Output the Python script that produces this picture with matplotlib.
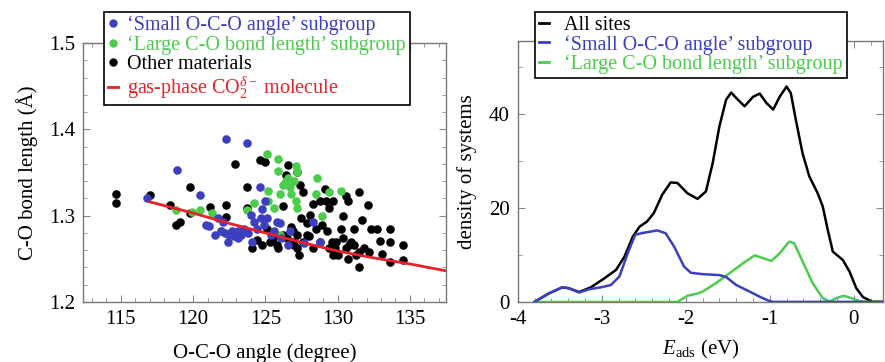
import matplotlib
matplotlib.use("Agg")
import matplotlib.pyplot as plt
from matplotlib.lines import Line2D
from matplotlib.ticker import MultipleLocator

plt.rcParams['font.family'] = ['Liberation Serif', 'DejaVu Serif']
plt.rcParams['mathtext.fontset'] = 'custom'
plt.rcParams['mathtext.rm'] = 'Liberation Serif'
plt.rcParams['mathtext.it'] = 'Liberation Serif:italic'

# ------------------------
# Data: scatter (left)
# ------------------------
other_angle = [114.7, 114.7, 117.0, 118.4, 118.8, 119.1, 119.8, 119.8, 121.2, 122.3,
               122.3, 122.9, 123.7, 123.7, 124.1, 124.4, 124.6, 125.0, 125.1, 125.3,
               125.8, 126.4, 126.2, 126.6, 127.2, 126.8, 126.9, 127.2, 127.4, 127.6,
               127.3, 127.5, 127.9, 127.9, 128.1, 128.3, 128.5, 128.9, 129.1, 128.8,
               129.2, 129.4, 129.3, 129.7, 129.6, 129.8, 130.2, 130.4, 130.4, 130.6,
               130.7, 131.1, 130.9, 130.6, 130.7, 131.5, 131.7, 131.5, 131.5, 132.1,
               132.3, 132.2, 132.7, 132.9, 133.1, 133.6, 133.6, 133.6, 134.5, 134.5,
               131.8, 131.1, 129.7, 128.8, 128.3, 127.2, 126.2, 125.9, 126.9, 127.6,
               129.4, 130.0, 131.3, 126.5, 127.0, 125.5, 124.8, 128.0, 129.9, 130.8]
other_length = [1.325, 1.315, 1.324, 1.312, 1.289, 1.293, 1.333, 1.303, 1.310, 1.312,
                1.298, 1.360, 1.333, 1.309, 1.262, 1.272, 1.365, 1.362, 1.285, 1.270,
                1.266, 1.347, 1.311, 1.359, 1.351, 1.287, 1.282, 1.278, 1.335, 1.327,
                1.254, 1.297, 1.291, 1.278, 1.301, 1.313, 1.285, 1.289, 1.331, 1.317,
                1.317, 1.309, 1.282, 1.317, 1.270, 1.262, 1.285, 1.299, 1.274, 1.323,
                1.317, 1.285, 1.270, 1.262, 1.250, 1.327, 1.295, 1.258, 1.240, 1.312,
                1.285, 1.258, 1.284, 1.271, 1.256, 1.284, 1.270, 1.246, 1.266, 1.248,
                1.262, 1.266, 1.254, 1.270, 1.262, 1.262, 1.278, 1.262, 1.270, 1.270,
                1.262, 1.254, 1.254, 1.274, 1.266, 1.274, 1.266, 1.276, 1.270, 1.266]

small_angle = [116.8, 118.9, 120.5, 122.3, 123.7, 124.6, 125.0, 124.8, 120.9, 121.1,
               121.5, 121.7, 121.9, 122.1, 122.2, 122.5, 122.7, 122.8, 123.1, 123.3,
               123.5, 123.8, 124.0, 124.1, 124.2, 124.4, 124.7, 124.9, 125.1, 125.4,
               125.6, 125.8, 126.0, 126.1, 126.6, 126.7, 127.7, 128.3, 128.8, 122.4,
               123.1]
small_length = [1.321, 1.353, 1.324, 1.389, 1.384, 1.333, 1.317, 1.308, 1.289, 1.288,
                1.278, 1.297, 1.282, 1.293, 1.280, 1.278, 1.282, 1.276, 1.274, 1.278,
                1.285, 1.280, 1.301, 1.270, 1.293, 1.285, 1.297, 1.289, 1.297, 1.278,
                1.282, 1.293, 1.291, 1.274, 1.266, 1.282, 1.268, 1.293, 1.270, 1.270,
                1.282]

large_angle = [118.8, 119.9, 120.5, 121.3, 121.9, 123.7, 124.2, 125.1, 125.2, 125.2,
               125.9, 125.9, 126.0, 126.2, 126.4, 126.6, 126.7, 127.0, 127.1, 127.2,
               127.1, 127.2, 126.8, 128.6, 128.5, 129.4, 128.9, 130.2, 126.0, 125.6]
large_length = [1.307, 1.304, 1.306, 1.303, 1.282, 1.307, 1.315, 1.371, 1.317, 1.329,
                1.366, 1.352, 1.325, 1.336, 1.340, 1.344, 1.333, 1.340, 1.358, 1.350,
                1.317, 1.309, 1.325, 1.344, 1.325, 1.327, 1.299, 1.329, 1.278, 1.309]

gas_angle = [117.0, 120.0, 122.5, 125.0, 127.5, 130.0, 132.5, 135.0, 137.5]
gas_length = [1.316, 1.303, 1.291, 1.280, 1.269, 1.259, 1.251, 1.244, 1.236]

# ------------------------
# Data: density of systems (right)
# ------------------------
all_e = [-3.80, -3.63, -3.47, -3.39, -3.27, -3.13, -2.97, -2.83, -2.73, -2.63,
         -2.55, -2.46, -2.38, -2.28, -2.18, -2.10, -1.98, -1.86, -1.76, -1.68,
         -1.60, -1.52, -1.46, -1.38, -1.30, -1.20, -1.12, -1.04, -0.96, -0.88,
         -0.80, -0.75, -0.69, -0.61, -0.53, -0.43, -0.37, -0.31, -0.25, -0.13,
         -0.05, 0.03, 0.11, 0.19, 0.22, 0.35]
all_d = [0.0, 1.8, 3.1, 2.9, 2.1, 3.1, 5.0, 6.8, 9.6, 13.9,
         16.0, 17.1, 18.9, 22.8, 25.4, 25.3, 23.1, 21.9, 23.5, 29.5,
         37.3, 43.0, 44.5, 43.0, 41.6, 43.6, 44.3, 42.3, 40.9, 43.7,
         45.8, 44.4, 38.7, 31.6, 26.7, 23.1, 20.3, 15.3, 10.7, 8.9,
         6.4, 2.9, 1.0, 0.3, 0.0, 0.0]

small_e = [-3.80, -3.63, -3.47, -3.39, -3.27, -3.15, -3.01, -2.89, -2.79, -2.69,
           -2.60, -2.50, -2.34, -2.24, -2.14, -2.02, -1.94, -1.80, -1.60, -1.52,
           -1.40, -1.24, -1.12, -1.02, -0.96, 0.35]
small_d = [0.0, 1.8, 3.1, 2.9, 2.0, 2.7, 3.1, 3.6, 5.4, 10.4,
           14.3, 14.7, 15.2, 14.6, 11.8, 7.5, 6.2, 5.9, 5.7, 5.3,
           3.6, 2.2, 1.1, 0.3, 0.0, 0.0]

large_e = [-3.80, -2.10, -1.98, -1.86, -1.80, -1.64, -1.48, -1.32, -1.18, -1.08,
           -0.98, -0.88, -0.77, -0.71, -0.61, -0.49, -0.37, -0.29, -0.21, -0.12,
           -0.03, 0.07, 0.15, 0.35]
large_d = [0.0, 0.0, 1.3, 1.8, 2.2, 4.0, 6.1, 8.2, 9.9, 9.3,
           8.7, 10.4, 12.8, 12.5, 8.6, 4.0, 0.8, 0.1, 0.8, 1.3,
           0.8, 0.2, 0.0, 0.0]

BLUE = '#3b3fc0'
GREEN = '#4ccc4c'
RED = '#e8202a'

fig = plt.figure(figsize=(8.85, 3.62), dpi=100)
ax1 = fig.add_axes([0.094, 0.166, 0.410, 0.715])
ax2 = fig.add_axes([0.585, 0.166, 0.413, 0.721])

# ------------------------
# Left panel
# ------------------------
ms = 38
ax1.scatter(other_angle, other_length, s=ms, color='black', zorder=2, lw=0)
ax1.scatter(large_angle, large_length, s=ms, color=GREEN, zorder=3, lw=0)
ax1.scatter(small_angle, small_length, s=ms, color=BLUE, zorder=4, lw=0)
ax1.plot(gas_angle, gas_length, color=RED, lw=2, zorder=5)

ax1.set_xlim(112.4, 137.5)
ax1.set_ylim(1.2, 1.5)
ax1.xaxis.set_major_locator(MultipleLocator(5))
ax1.xaxis.set_minor_locator(MultipleLocator(1))
ax1.yaxis.set_major_locator(MultipleLocator(0.1))
ax1.yaxis.set_minor_locator(MultipleLocator(0.02))
ax1.set_xlabel('O-C-O angle (degree)', fontsize=15, labelpad=10)
ax1.set_ylabel('C-O bond length (Å)', fontsize=15, labelpad=8)

handles1 = [
    Line2D([], [], ls='none', marker='o', color=BLUE, ms=5),
    Line2D([], [], ls='none', marker='o', color=GREEN, ms=5),
    Line2D([], [], ls='none', marker='o', color='black', ms=5),
    Line2D([], [], color=RED, lw=2),
]
labels1 = ['\u2018Small O-C-O angle\u2019 subgroup',
           '\u2018Large C-O bond length\u2019 subgroup',
           'Other materials',
           'gas-phase CO$_2^{\\delta-}$ molecule']
leg1 = ax1.legend(handles1, labels1, loc='upper left', bbox_to_anchor=(0.058, 1.12),
                  fontsize=14.5, handlelength=0.5, handletextpad=0.45, labelspacing=0.0,
                  borderpad=0.2, borderaxespad=0, fancybox=False, framealpha=1,
                  edgecolor='black', labelcolor=[BLUE, GREEN, 'black', RED])
leg1.get_frame().set_linewidth(1.2)
leg1.set_zorder(10)

# ------------------------
# Right panel
# ------------------------
ax2.plot(all_e, all_d, color='black', lw=1.8, zorder=2)
ax2.plot(large_e, large_d, color=GREEN, lw=1.8, zorder=3)
ax2.plot(small_e, small_d, color=BLUE, lw=1.8, zorder=4)
ax2.set_xlim(-4, 0.35)
ax2.set_ylim(0, 55.5)
ax2.xaxis.set_major_locator(MultipleLocator(1))
ax2.xaxis.set_minor_locator(MultipleLocator(0.2))
ax2.yaxis.set_major_locator(MultipleLocator(20))
ax2.yaxis.set_minor_locator(MultipleLocator(10))
ax2.set_xticks([-4, -3, -2, -1, 0])
ax2.set_xticklabels(['-4', '-3', '-2', '-1', '0'])
ax2.set_xlabel('$E_{\\mathrm{ads}}$ (eV)', fontsize=15, labelpad=6)
ax2.set_ylabel('density of systems', fontsize=15, labelpad=8)

handles2 = [Line2D([], [], color='black', lw=2),
            Line2D([], [], color=BLUE, lw=2),
            Line2D([], [], color=GREEN, lw=2)]
labels2 = ['All sites',
           '\u2018Small O-C-O angle\u2019 subgroup',
           '\u2018Large C-O bond length\u2019 subgroup']
leg2 = ax2.legend(handles2, labels2, loc='upper left', bbox_to_anchor=(0.047, 1.111),
                  fontsize=14.5, handlelength=0.5, handletextpad=0.75, labelspacing=0.0,
                  borderpad=0.2, borderaxespad=0, fancybox=False, framealpha=1,
                  edgecolor='black', labelcolor=['black', BLUE, GREEN])
leg2.get_frame().set_linewidth(1.2)
leg2.set_zorder(10)

for ax in (ax1, ax2):
    ax.tick_params(which='both', direction='in', top=True, right=True, labelsize=15)
    ax.tick_params(which='major', length=5, color='#888888')
    ax.tick_params(which='minor', length=3, color='#888888')
    for sp in ax.spines.values():
        sp.set_color('#777777')
        sp.set_linewidth(1.0)
    ax.tick_params(axis='both', which='major', pad=6)

fig.savefig('out.png', dpi=100)
